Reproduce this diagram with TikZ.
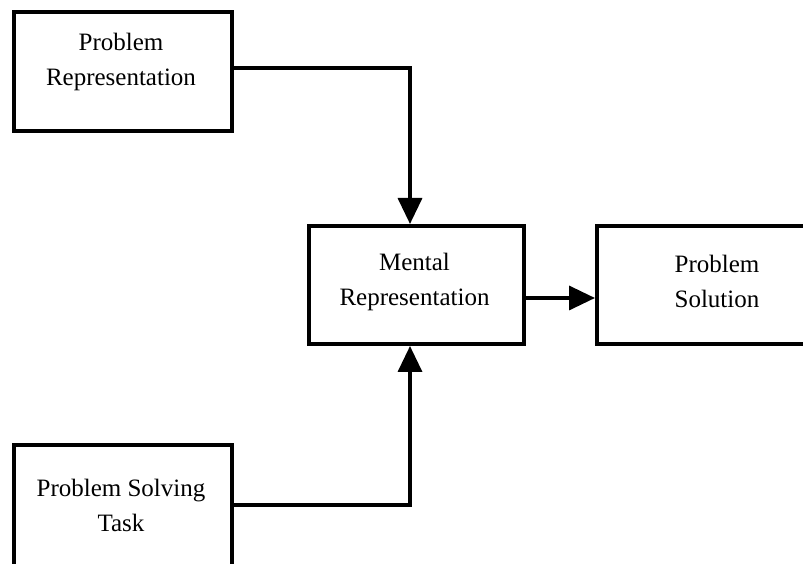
\documentclass[tikz,border=0pt]{standalone}
\usepackage{fontspec}
\setmainfont{Liberation Serif}
\usetikzlibrary{arrows.meta}
\begin{document}
\begin{tikzpicture}[x=1pt,y=1pt,
  box/.style={draw, line width=4pt, rectangle, inner sep=0pt, anchor=south west},
  lbl/.style={align=center, font=\fontsize{25}{35}\selectfont, inner sep=0pt},
  arr/.style={draw, line width=3.5pt, -{Triangle[length=26pt,width=24pt]}}]
\useasboundingbox (0,0) rectangle (803,564);
\clip (0,0) rectangle (803,564);
% boxes
\node[box, minimum width=218pt, minimum height=119pt] (A) at (12,431) {};
\node[box, minimum width=215pt, minimum height=118pt] (M) at (307,218) {};
\node[box, minimum width=245pt, minimum height=118pt] (S) at (595,218) {};
\node[box, minimum width=218pt, minimum height=160pt] (T) at (12,-43) {};
% labels
\node[lbl] (At) at (121,502) {Problem\\Representation};
\node[lbl] (Mt) at (414.5,282.5) {Mental\\Representation};
\node[lbl] (St) at (717,282.5) {Problem\\Solution};
\node[lbl] (Tt) at (121,59) {Problem Solving\\Task};
% helper coordinates
\coordinate (ya) at (0,496);
\coordinate (yt) at (0,59);
\coordinate (ym) at (0,266);
\coordinate (xa) at (410,0);
% connectors
\path[arr] (A.east |- ya) -| (M.north -| xa);
\path[arr] (T.east |- yt) -| (M.south -| xa);
\path[arr] (M.east |- ym) -- (S.west |- ym);
\end{tikzpicture}
\end{document}
